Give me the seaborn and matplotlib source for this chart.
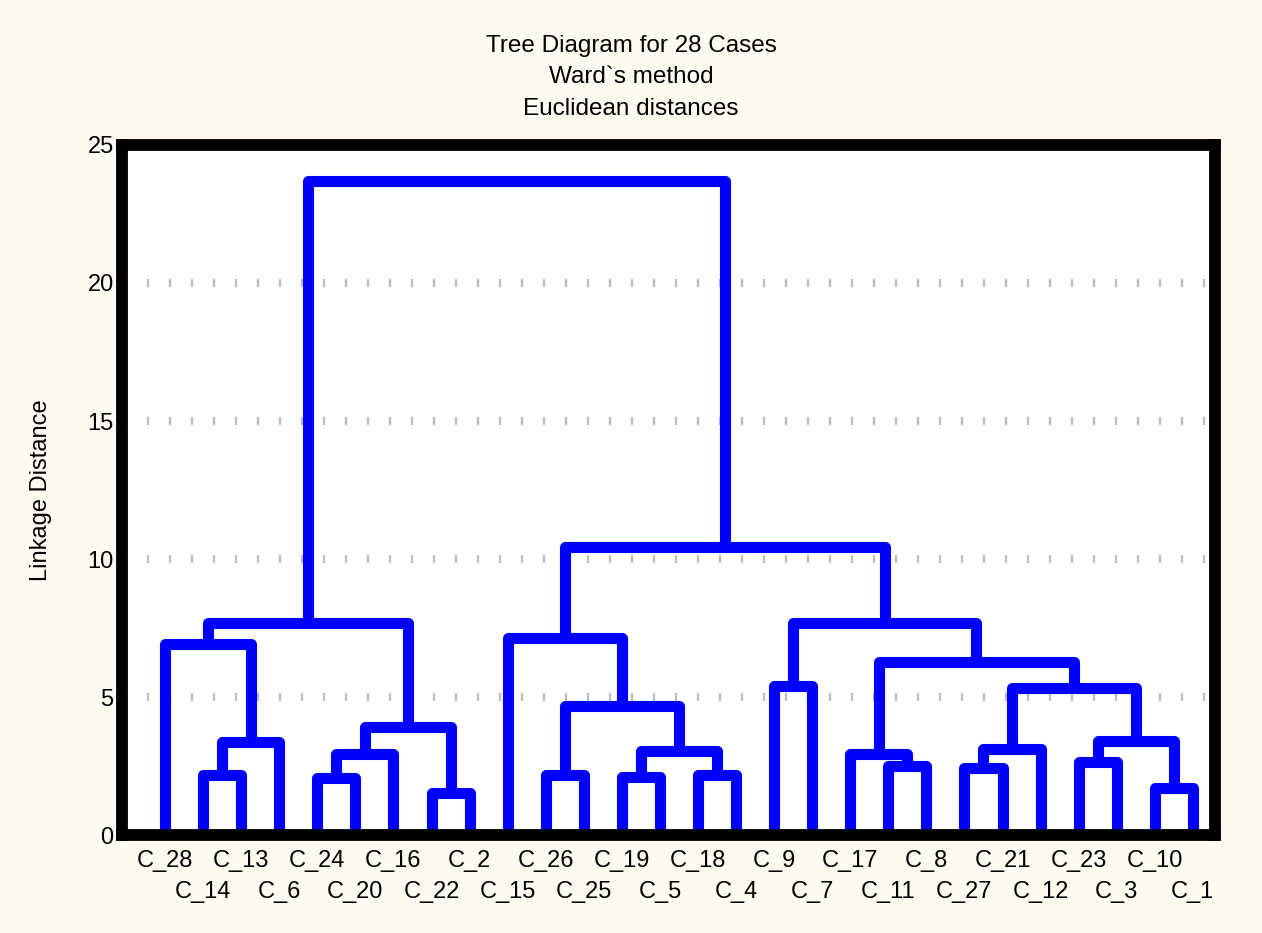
import numpy as np
import pandas as pd
import matplotlib
matplotlib.use("Agg")
import matplotlib.pyplot as plt
import seaborn as sns

# leaf order along the x axis
leaves = ["C_28", "C_14", "C_13", "C_6", "C_24", "C_20", "C_16", "C_22", "C_2",
          "C_15", "C_26", "C_25", "C_19", "C_5", "C_18", "C_4", "C_9", "C_7",
          "C_17", "C_11", "C_8", "C_27", "C_21", "C_12", "C_23", "C_3", "C_10", "C_1"]

# merges: left child, right child, linkage distance (m<i> = i-th merge)
merge_left = ["C_14", "m0", "C_28", "C_24", "m3", "C_22", "m4", "m2",
              "C_26", "C_19", "C_18", "m9", "m8", "C_15",
              "C_9", "C_11", "C_17", "C_27", "m17", "C_23", "C_10", "m19",
              "m18", "m16", "m14", "m13", "m7"]
merge_right = ["C_13", "C_6", "m1", "C_20", "C_16", "C_2", "m5", "m6",
               "C_25", "C_5", "C_4", "m10", "m11", "m12",
               "C_7", "C_8", "m15", "C_21", "C_12", "C_3", "C_1", "m20",
               "m21", "m22", "m23", "m24", "m25"]
merge_height = [2.17, 3.37, 6.92, 2.06, 2.93, 1.52, 3.9, 7.7,
                2.17, 2.1, 2.17, 3.04, 4.67, 7.14,
                5.4, 2.5, 2.93, 2.43, 3.12, 2.65, 1.7, 3.4,
                5.33, 6.27, 7.68, 10.43, 23.7]

# positions of every node: leaves at 0..n-1, merges at mid of children
pos = {name: (float(i), 0.0) for i, name in enumerate(leaves)}
rows = []
for i, (a, b, h) in enumerate(zip(merge_left, merge_right, merge_height)):
    xa, ya = pos[a]
    xb, yb = pos[b]
    rows += [(i, xa, ya), (i, xa, h), (i, xb, h), (i, xb, yb)]
    pos["m%d" % i] = ((xa + xb) / 2, h)
df = pd.DataFrame(rows, columns=["merge", "x", "y"])

sns.set_theme(style="white")
plt.rcParams["font.family"] = ["Liberation Sans", "DejaVu Sans"]
plt.rcParams["text.color"] = "black"
bg = "#FFFAEF"
fs = 17

fig = plt.figure(figsize=(12.62, 9.33), dpi=100, facecolor=bg)
ax = fig.add_axes([0.0967, 0.105, 0.866, 0.7396])
ax.set_facecolor("white")

# dotted grid made of small vertical ticks
gx = np.arange(-0.45, 27.6, 0.578)
for gy in [5, 10, 15, 20]:
    ax.plot(gx, np.full_like(gx, gy), linestyle="none", marker="|",
            ms=6, mew=1.6, color="#bcbcbc", zorder=1)

sns.lineplot(data=df, x="x", y="y", units="merge", estimator=None, sort=False,
             color="#0000FF", lw=8, solid_joinstyle="round",
             solid_capstyle="butt", ax=ax, zorder=2, legend=False)

ax.set_xlim(-1.13, 27.58)
ax.set_ylim(0, 25)
ax.set_yticks([0, 5, 10, 15, 20, 25])
ax.set_yticklabels(["0", "5", "10", "15", "20", "25"], fontsize=fs)

# leaf labels in two staggered rows
ax.set_xticks(range(0, len(leaves), 2))
ax.set_xticklabels(leaves[0::2], fontsize=fs)
ax.set_xticks(range(1, len(leaves), 2), minor=True)
ax.set_xticklabels(leaves[1::2], minor=True, fontsize=fs)
ax.tick_params(axis="x", which="major", length=0, pad=11, colors="black")
ax.tick_params(axis="x", which="minor", length=0, pad=33, colors="black")
ax.tick_params(axis="y", length=0, pad=6, colors="black")
ax.set_xlabel("")
ax.set_ylabel("Linkage Distance", fontsize=fs, color="black")
ax.yaxis.set_label_coords(-0.064, 0.5)

for sp in ax.spines.values():
    sp.set_visible(True)
    sp.set_color("black")
    sp.set_linewidth(8.5)
    sp.set_zorder(5)

fig.text(0.5, 0.951, "Tree Diagram for 28 Cases", ha="center", va="center", fontsize=17.5)
fig.text(0.5, 0.918, "Ward`s method", ha="center", va="center", fontsize=17.5)
fig.text(0.5, 0.883, "Euclidean distances", ha="center", va="center", fontsize=17.5)

fig.savefig("out.png", dpi=100, facecolor=bg)
